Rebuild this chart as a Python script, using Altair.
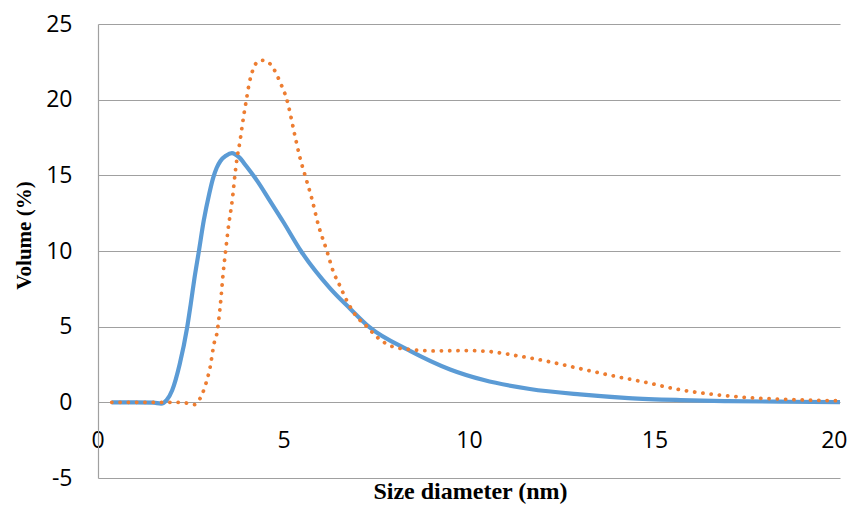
import altair as alt
import pandas as pd

# Series 1 (solid blue)
blue_x = [0.37, 1.0, 1.5, 1.7, 1.85, 2.0, 2.2, 2.4, 2.5, 2.6, 2.72, 2.85, 3.0, 3.1, 3.2, 3.3,
          3.45, 3.61, 3.8, 4.0, 4.3, 4.6, 5.0, 5.47, 6.25, 6.79, 7.3, 8.41, 9.49, 10.4, 11.64,
          12.99, 14.3, 15.7, 17.0, 18.5, 20.0]
blue_y = [0.0, 0.0, -0.02, -0.08, 0.15, 0.8, 2.5, 4.9, 6.5, 8.2, 10.0, 12.0, 13.8, 14.8, 15.5,
          15.95, 16.3, 16.47, 16.2, 15.6, 14.6, 13.45, 11.9, 10.0, 7.55, 6.2, 5.0, 3.4, 2.17,
          1.47, 0.88, 0.52, 0.28, 0.15, 0.08, 0.04, 0.02]

# Series 2 (dotted orange)
orange_x = [0.37, 1.0, 2.0, 2.4, 2.6, 2.75, 2.91, 3.02, 3.13, 3.2, 3.3, 3.38, 3.44, 3.5, 3.63,
            3.69, 3.74, 3.83, 3.9, 4.0, 4.07, 4.18, 4.3, 4.42, 4.6, 4.72, 4.9, 5.09, 5.31, 5.44,
            5.58, 5.77, 5.93, 6.17, 6.34, 6.52, 6.71, 6.93, 7.25, 7.55, 7.92, 8.36, 9.03, 9.92,
            10.57, 11.24, 12.13, 12.99, 13.88, 14.8, 15.6, 16.5, 17.6, 18.5, 20.0]
orange_y = [0.0, 0.0, 0.0, -0.05, -0.15, 0.25, 1.25, 2.3, 3.9, 4.5, 6.5, 8.7, 10.0, 11.3, 13.6,
            15.0, 16.0, 17.3, 18.5, 20.0, 21.0, 22.0, 22.5, 22.6, 22.45, 22.1, 21.2, 20.0, 17.6,
            16.2, 15.0, 13.4, 11.8, 10.0, 8.65, 7.7, 6.7, 5.8, 5.0, 4.25, 3.7, 3.5, 3.4, 3.42,
            3.35, 3.1, 2.7, 2.23, 1.75, 1.3, 0.87, 0.55, 0.3, 0.2, 0.1]

x_ticks = [0, 5, 10, 15, 20]
y_ticks = [-5, 0, 5, 10, 15, 20, 25]

blue_df = pd.DataFrame({"x": blue_x, "y": blue_y})
orange_df = pd.DataFrame({"x": orange_x, "y": orange_y})

GRID = "#A0A0A0"
LABEL_FONT = "Open Sans"
PLOT_H = 454
Y0_FROM_BOTTOM = PLOT_H * 5 / 30  # distance of y=0 line above plot bottom

x_enc = alt.X(
    "x:Q",
    scale=alt.Scale(domain=[0, 20], nice=False, zero=False),
    axis=alt.Axis(
        values=x_ticks, grid=False, ticks=False, domain=False,
        offset=-Y0_FROM_BOTTOM, labelPadding=27, labelFont=LABEL_FONT, labelFontSize=23,
        labelColor="#000000", labelFlush=True, labelFlushOffset=7,
        labelExpr="'' + datum.value",
        title="Size diameter (nm)", titleFont="Liberation Serif", titleFontSize=24,
        titleFontWeight="bold", titleColor="#000000", titleY=96.5, titleX=372,
        titleBaseline="alphabetic", titleAlign="center",
    ),
)
y_enc = alt.Y(
    "y:Q",
    scale=alt.Scale(domain=[-5, 25], nice=False, zero=False),
    axis=alt.Axis(
        values=y_ticks, grid=True, gridColor=GRID, gridWidth=1.2, ticks=False,
        domain=True, domainColor=GRID, domainWidth=1.2,
        labelPadding=26, labelFont=LABEL_FONT, labelFontSize=23, labelColor="#000000",
        labelBaseline="middle", labelExpr="'' + datum.value",
        title="Volume (%)", titleFont="Liberation Serif", titleFontSize=21,
        titleFontWeight="bold", titleColor="#000000", titleX=-74, titleY=211,
        titleAngle=-90, titleBaseline="middle", titleAlign="center",
    ),
)

blue = alt.Chart(blue_df).mark_line(
    color="#5B9BD5", strokeWidth=4.2, interpolate="monotone"
).encode(x=x_enc, y=y_enc)

orange = alt.Chart(orange_df).mark_line(
    color="#ED7D31", strokeWidth=3.8, strokeDash=[0.1, 8.2], strokeCap="round",
    interpolate="monotone"
).encode(x="x:Q", y="y:Q")

chart = alt.layer(blue, orange).properties(
    width=742, height=PLOT_H,
    autosize=alt.AutoSizeParams(type="none"),
    padding={"left": 90, "top": 16, "right": 8, "bottom": 26},
).configure_view(stroke=None)

chart.save("out.html", embed_options={"renderer": "svg", "actions": False})
